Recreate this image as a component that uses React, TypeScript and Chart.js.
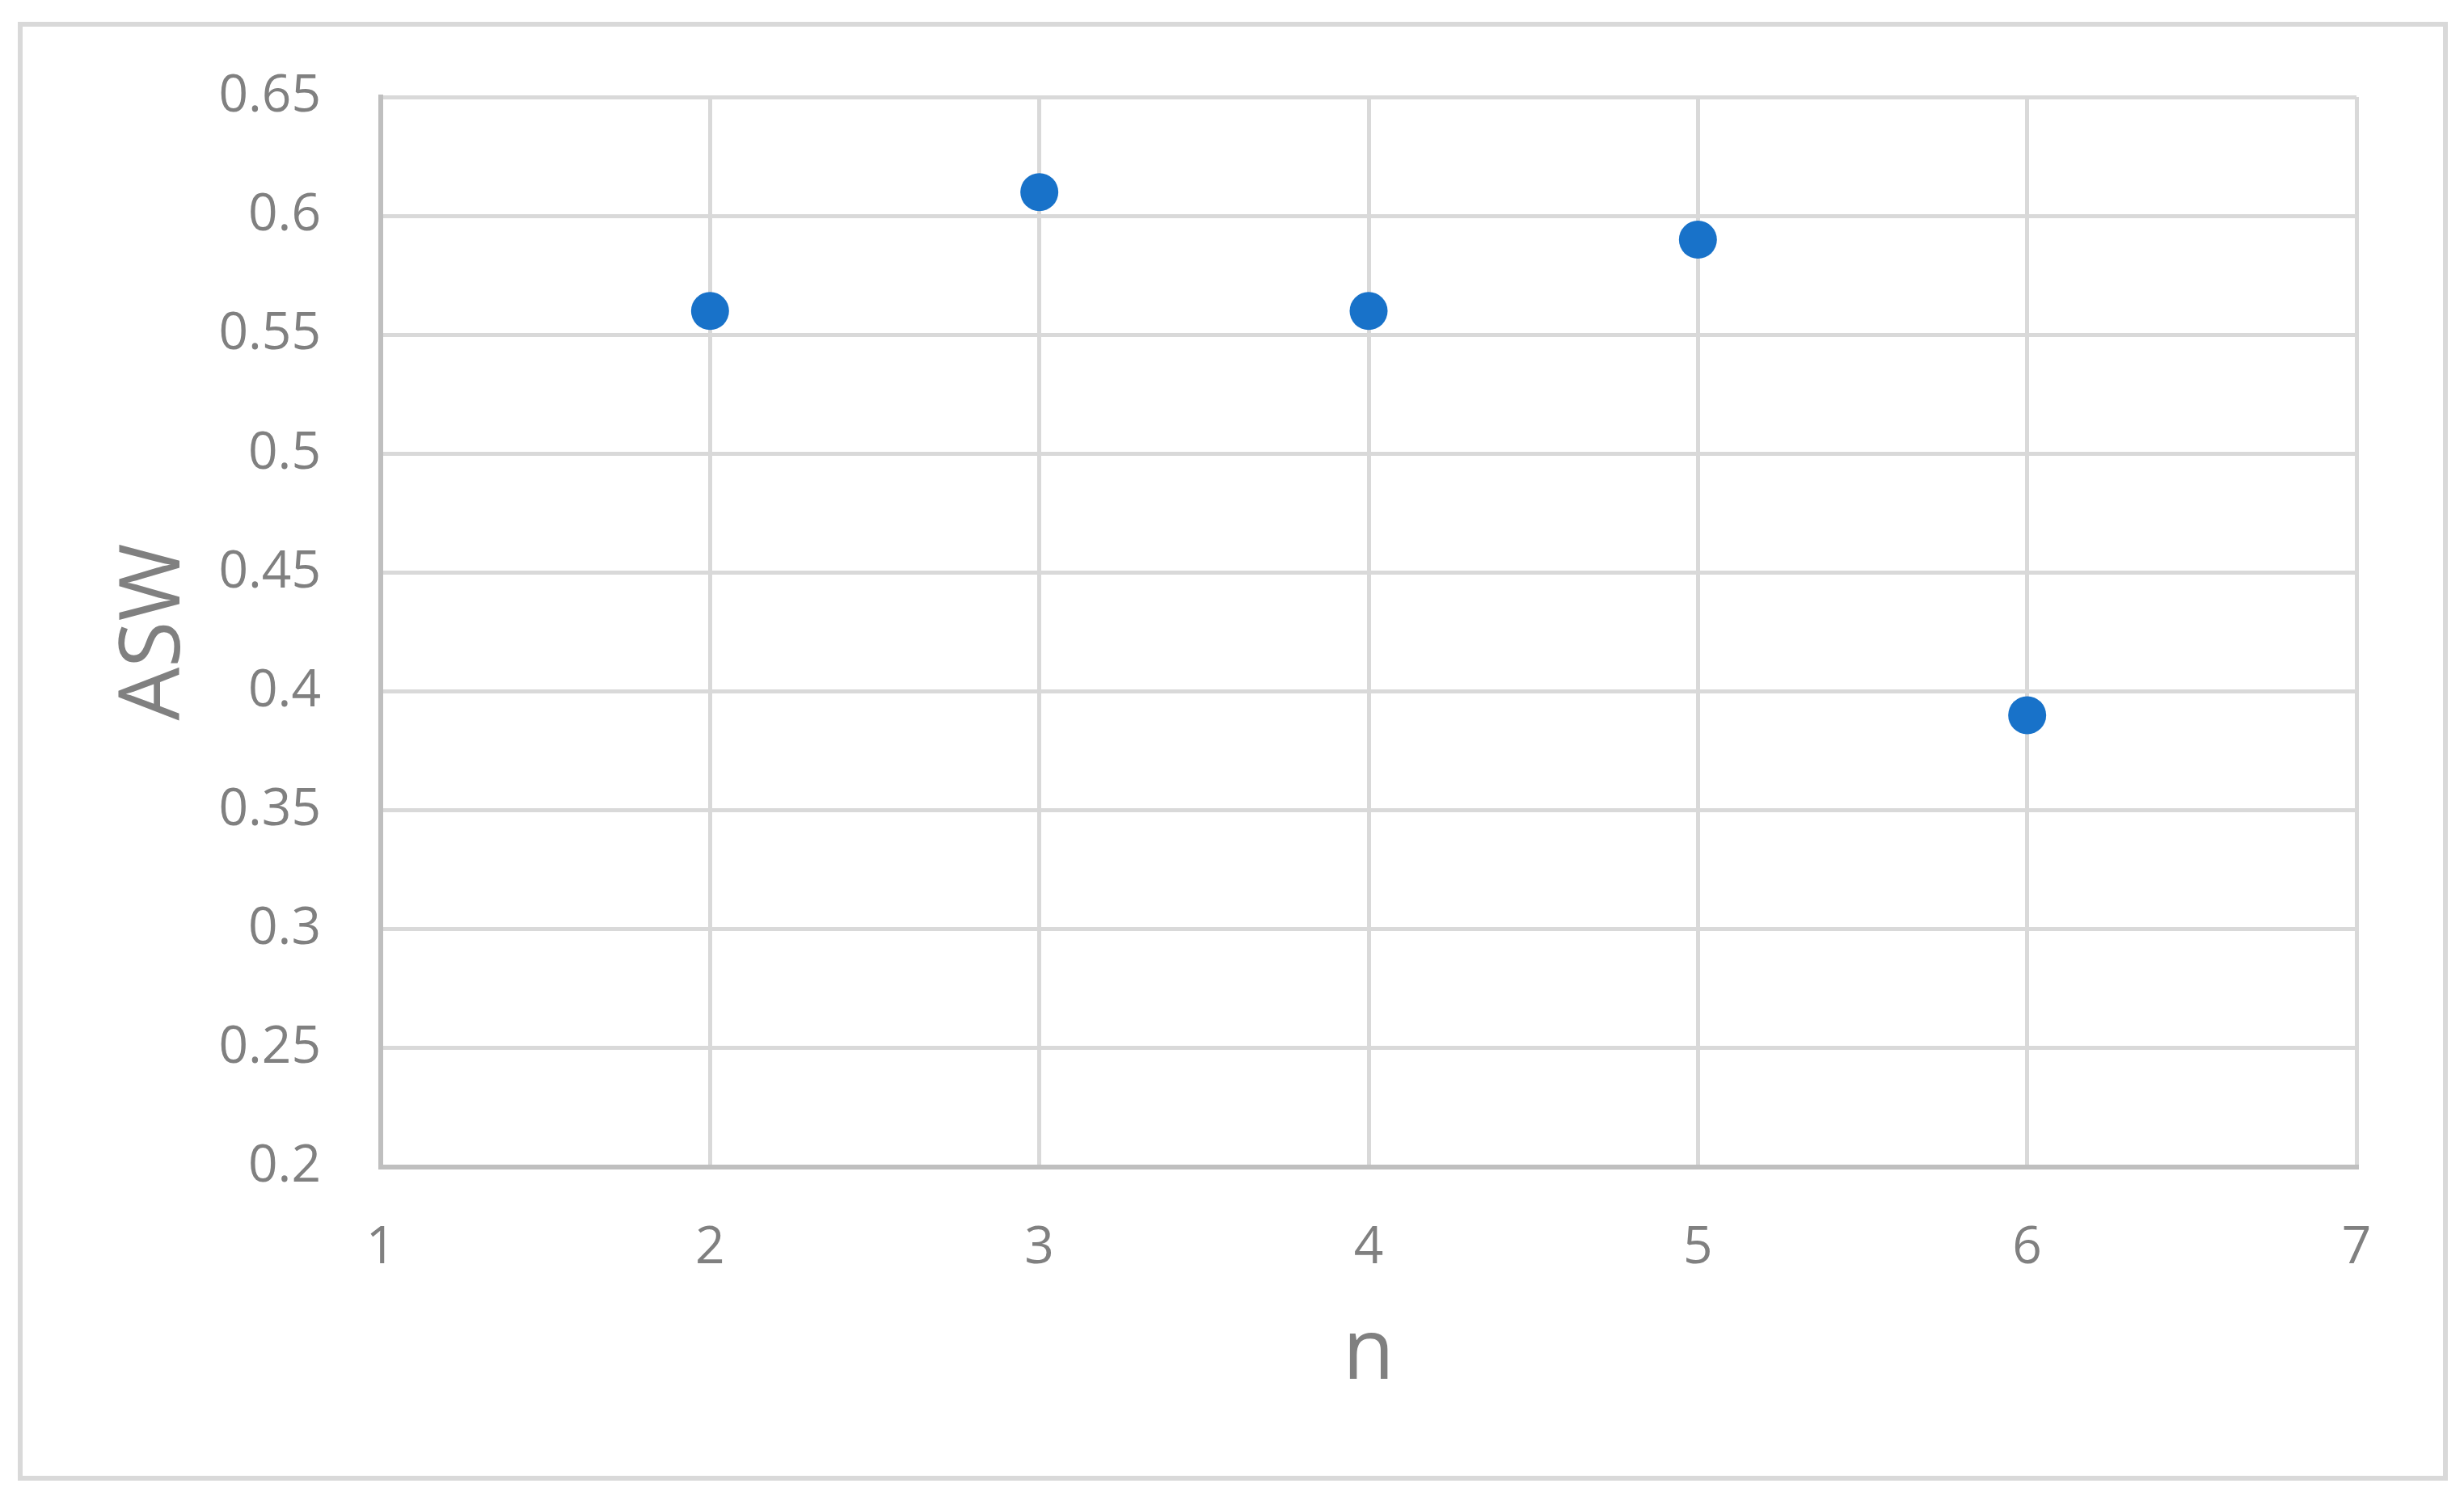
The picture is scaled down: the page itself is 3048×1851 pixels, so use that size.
import React, { useEffect, useRef } from "react";
import { Chart, registerables } from "chart.js";

Chart.register(...registerables);

const nValues = [2, 3, 4, 5, 6];
const aswValues = [0.56, 0.61, 0.56, 0.59, 0.39];
const xTickValues = [1, 2, 3, 4, 5, 6, 7];
const yTickValues = [0.2, 0.25, 0.3, 0.35, 0.4, 0.45, 0.5, 0.55, 0.6, 0.65];
const xTitle = "n";
const yTitle = "ASW";

const W = 3048;
const H = 1851;

const framePlugin = {
  id: "frame",
  beforeDraw(chart: any) {
    const ctx = chart.ctx;
    ctx.save();
    ctx.fillStyle = "#ffffff";
    ctx.fillRect(0, 0, W, H);
    ctx.strokeStyle = "#D9D9D9";
    ctx.lineWidth = 6;
    ctx.strokeRect(25, 30, 3000, 1799);
    ctx.restore();
  },
};

export default function App() {
  const ref = useRef<HTMLCanvasElement | null>(null);

  useEffect(() => {
    if (!ref.current) return;
    const tickFont = { family: "'Open Sans'", size: 64 };
    const titleFont = { family: "'Open Sans'", size: 104 };
    const chart = new Chart(ref.current, {
      type: "scatter",
      data: {
        datasets: [
          {
            data: nValues.map((n, i) => ({ x: n, y: aswValues[i] })),
            backgroundColor: "#1872C9",
            borderColor: "#1872C9",
            pointRadius: 23.5,
            pointHoverRadius: 23.5,
            borderWidth: 0,
          },
        ],
      },
      options: {
        animation: false,
        responsive: false,
        devicePixelRatio: 1,
        events: [],
        layout: { padding: { top: 120, right: 133, bottom: 0, left: 0 } },
        plugins: {
          legend: { display: false },
          tooltip: { enabled: false },
          title: { display: false },
        },
        scales: {
          x: {
            type: "linear",
            position: "bottom",
            min: 1,
            max: 7,
            afterBuildTicks: (s: any) => {
              s.ticks = xTickValues.map((v) => ({ value: v }));
            },
            afterFit: (s: any) => {
              s.height = H - 1444;
            },
            ticks: {
              font: tickFont,
              color: "#808080",
              padding: 62,
              maxRotation: 0,
              callback: (v: any) => String(v),
            },
            grid: { color: "#D9D9D9", lineWidth: 5, drawTicks: false },
            border: { color: "#BFBFBF", width: 6, z: 1 },
            title: {
              display: true,
              text: xTitle,
              font: titleFont,
              color: "#808080",
              padding: { top: 0, bottom: 112 },
            },
          },
          y: {
            type: "linear",
            min: 0.2,
            max: 0.65,
            afterBuildTicks: (s: any) => {
              s.ticks = yTickValues.map((v) => ({ value: v }));
            },
            afterFit: (s: any) => {
              s.width = 471;
            },
            ticks: {
              font: tickFont,
              color: "#808080",
              padding: 74,
              callback: (v: any) => String(Number(Number(v).toFixed(2))),
            },
            grid: { color: "#D9D9D9", lineWidth: 5, drawTicks: false },
            border: { color: "#BFBFBF", width: 6, z: 1 },
            title: {
              display: true,
              text: yTitle,
              font: titleFont,
              color: "#808080",
              padding: { top: 130, bottom: 0 },
            },
          },
        },
      },
      plugins: [framePlugin],
    } as any);
    return () => chart.destroy();
  }, []);

  return (
    <canvas
      ref={ref}
      width={W}
      height={H}
      style={{ position: "fixed", left: 0, top: 0, width: W, height: H }}
    />
  );
}
